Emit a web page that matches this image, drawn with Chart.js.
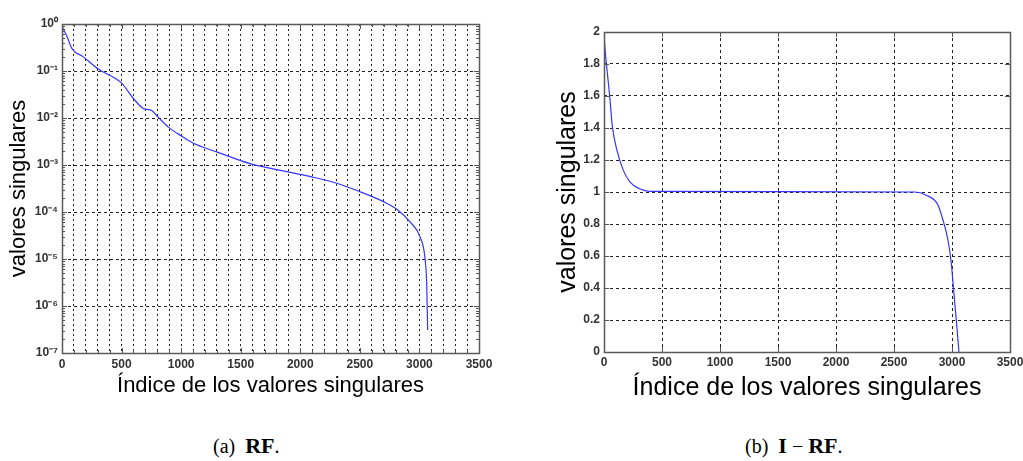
<!DOCTYPE html>
<html><head><meta charset="utf-8">
<script src="https://cdn.jsdelivr.net/npm/chart.js@4"></script>
<style>
html,body{margin:0;padding:0;background:#fff;width:1023px;height:461px;overflow:hidden;position:relative}
#ca{position:absolute;left:0;top:0}
#cb{position:absolute;left:520px;top:0}
.cap{position:absolute;top:433px;font-family:"Liberation Serif","DejaVu Serif",serif;font-size:20px;color:#000;white-space:nowrap}
.cap b{font-size:22px}
</style></head>
<body>
<canvas id="ca" width="500" height="410"></canvas>
<canvas id="cb" width="520" height="410"></canvas>
<div class="cap" style="left:213px">(a)&nbsp; <b>RF</b>.</div>
<div class="cap" style="left:745px">(b)&nbsp; <b>I</b> − <b>RF</b>.</div>
<script>
// ---- data: panel (a) RF, singular values (log scale) ----
const idxA  = [0, 42, 84, 179, 305, 445, 501, 599, 683, 753, 809, 893, 1005, 1103, 1299, 1578, 1802, 1886, 1998, 2096, 2306, 2502, 2698, 2810, 2921, 3005, 3047, 3061, 3069];
const valsA = [0.9, 0.54, 0.30, 0.20, 0.11, 0.07, 0.055, 0.026, 0.016, 0.0144, 0.0103, 0.0064, 0.0041, 0.0029, 0.0019, 0.00107, 0.0008, 0.00072, 0.00063, 0.00056, 0.00041, 0.00027, 0.000166, 0.000115, 6.2e-5, 2.96e-5, 1.03e-5, 3.0e-6, 3.1e-7];
// ---- data: panel (b) I - RF, singular values ----
const idxB  = [0, 6, 21, 49, 72, 112, 164, 221, 307, 394, 2677, 2778, 2878, 2922, 2965, 2994, 3014, 3037, 3060];
const valsB = [2.0, 1.92, 1.80, 1.60, 1.41, 1.26, 1.14, 1.065, 1.02, 1.004, 1.0, 0.98, 0.92, 0.825, 0.70, 0.554, 0.3875, 0.2, 0.0];
// ---- ticks ----
const xTickValues = [0, 500, 1000, 1500, 2000, 2500, 3000, 3500];
const xTickLabels = ['0', '500', '1000', '1500', '2000', '2500', '3000', '3500'];
const yDecadesA = [1e-7, 1e-6, 1e-5, 1e-4, 1e-3, 1e-2, 1e-1, 1];
const yTickLabelsA = ['10⁻⁷', '10⁻⁶', '10⁻⁵', '10⁻⁴', '10⁻³', '10⁻²', '10⁻¹', '10⁰'];
const yTicksB = [0, 0.2, 0.4, 0.6, 0.8, 1, 1.2, 1.4, 1.6, 1.8, 2];
const yTickLabelsB = ['0', '0.2', '0.4', '0.6', '0.8', '1', '1.2', '1.4', '1.6', '1.8', '2'];
const xTitle = 'Índice de los valores singulares';
const yTitle = 'valores singulares';

const minorStep = 100;
const xGridA = [];
for (let v = 0; v <= 3500; v += minorStep) xGridA.push(v);
const yGridA = [];
yDecadesA.forEach((d, i) => {
  if (i < yDecadesA.length - 1) { for (let k = 1; k <= 9; k++) yGridA.push(k * d); }
  else yGridA.push(d);
});
const isDecade = v => Math.abs(Math.log10(v) - Math.round(Math.log10(v))) < 1e-6;
const near = (a, b) => Math.abs(a - b) <= 1e-9 * Math.max(1e-12, Math.abs(b)) + 1e-12;

const FONT = '"Liberation Sans", Arial, Helvetica, sans-serif';
const tickFont = {family: FONT, size: 12, weight: 'bold'};
const LINE = '#3535ff';

const framePlugin = {
  id: 'frame',
  afterDraw(chart, args, o) {
    const {ctx, chartArea: a} = chart;
    const x = chart.scales.x, y = chart.scales.y;
    ctx.save();
    ctx.strokeStyle = '#555';
    ctx.lineWidth = 1;
    ctx.beginPath();
    x.ticks.forEach(t => {
      const major = xTickValues.some(v => v === t.value);
      const L = major ? 5 : 3;
      const px = Math.round(x.getPixelForValue(t.value)) + 0.5;
      ctx.moveTo(px, a.bottom); ctx.lineTo(px, a.bottom - L);
      ctx.moveTo(px, a.top); ctx.lineTo(px, a.top + L);
    });
    y.ticks.forEach(t => {
      const major = o.log ? isDecade(t.value) : true;
      const L = major ? 5 : 3;
      const py = Math.round(y.getPixelForValue(t.value)) + 0.5;
      ctx.moveTo(a.left, py); ctx.lineTo(a.left + L, py);
      ctx.moveTo(a.right, py); ctx.lineTo(a.right - L, py);
    });
    ctx.stroke();
    ctx.lineWidth = 1.5;
    ctx.strokeStyle = '#5a5a5a';
    ctx.strokeRect(Math.round(a.left) + 0.5, Math.round(a.top) + 0.5, Math.round(a.right - a.left), Math.round(a.bottom - a.top));
    ctx.restore();
  }
};

function xLabel(v) {
  const i = xTickValues.findIndex(t => t === v);
  return i >= 0 ? xTickLabels[i] : '';
}

// ---------- Chart (a) ----------
new Chart(document.getElementById('ca'), {
  type: 'line',
  data: { datasets: [{
    data: idxA.map((x, i) => ({x: x, y: valsA[i]})),
    borderColor: LINE, borderWidth: 1.2, pointRadius: 0, fill: false,
    cubicInterpolationMode: 'monotone'
  }]},
  options: {
    responsive: false, animation: false, devicePixelRatio: 1,
    layout: {padding: {top: 24, right: 21, left: 0, bottom: 0}},
    plugins: {legend: {display: false}, tooltip: {enabled: false}, frame: {log: true}},
    scales: {
      x: {
        type: 'linear', min: 0, max: 3500,
        afterBuildTicks: s => { s.ticks = xGridA.map(v => ({value: v})); },
        afterFit: s => { s.height = 57; },
        ticks: {autoSkip: false, maxRotation: 0, padding: 4, color: '#333', font: tickFont, callback: v => xLabel(v)},
        grid: {color: '#222', lineWidth: 1, drawTicks: false},
        border: {display: false, dash: [2, 3]},
        title: {display: true, text: xTitle, color: '#000', font: {family: FONT, size: 22}, padding: {top: 0, bottom: 11}}
      },
      y: {
        type: 'logarithmic', min: 1e-7, max: 1,
        afterBuildTicks: s => { s.ticks = yGridA.map(v => ({value: v, major: isDecade(v)})); },
        afterFit: s => { s.width = 62; },
        ticks: {autoSkip: false, padding: 4, color: '#333', font: tickFont,
          callback: v => { const i = yDecadesA.findIndex(d => near(v, d)); return i >= 0 ? yTickLabelsA[i] : ''; }},
        grid: {color: c => (c.tick && isDecade(c.tick.value)) ? '#222' : 'rgba(0,0,0,0)', lineWidth: 1, drawTicks: false},
        border: {display: false, dash: [3, 3]},
        title: {display: true, text: yTitle, color: '#000', font: {family: FONT, size: 22}, padding: {top: 6, bottom: 0}}
      }
    }
  },
  plugins: [framePlugin]
});

// ---------- Chart (b) ----------
new Chart(document.getElementById('cb'), {
  type: 'line',
  data: { datasets: [{
    data: idxB.map((x, i) => ({x: x, y: valsB[i]})),
    borderColor: LINE, borderWidth: 1.2, pointRadius: 0, fill: false,
    cubicInterpolationMode: 'monotone'
  }]},
  options: {
    responsive: false, animation: false, devicePixelRatio: 1,
    layout: {padding: {top: 32, right: 30, left: 0, bottom: 0}},
    plugins: {legend: {display: false}, tooltip: {enabled: false}, frame: {log: false}},
    scales: {
      x: {
        type: 'linear', min: 0, max: 3500,
        afterBuildTicks: s => { s.ticks = xTickValues.map(v => ({value: v})); },
        afterFit: s => { s.height = 58; },
        ticks: {autoSkip: false, maxRotation: 0, padding: 3, color: '#333', font: tickFont, callback: v => xLabel(v)},
        grid: {color: '#222', lineWidth: 1, drawTicks: false},
        border: {display: false, dash: [3, 3]},
        title: {display: true, text: xTitle, color: '#000', font: {family: FONT, size: 25}, padding: {top: 0, bottom: 7}}
      },
      y: {
        type: 'linear', min: 0, max: 2,
        afterBuildTicks: s => { s.ticks = yTicksB.map(v => ({value: v})); },
        afterFit: s => { s.width = 84; },
        ticks: {autoSkip: false, padding: 4, color: '#333', font: tickFont,
          callback: v => { const i = yTicksB.findIndex(d => Math.abs(d - v) < 1e-9); return i >= 0 ? yTickLabelsB[i] : ''; }},
        grid: {color: '#222', lineWidth: 1, drawTicks: false},
        border: {display: false, dash: [3, 3]},
        title: {display: true, text: yTitle, color: '#000', font: {family: FONT, size: 25}, padding: {top: 33, bottom: 0}}
      }
    }
  },
  plugins: [framePlugin]
});
</script>
</body></html>
